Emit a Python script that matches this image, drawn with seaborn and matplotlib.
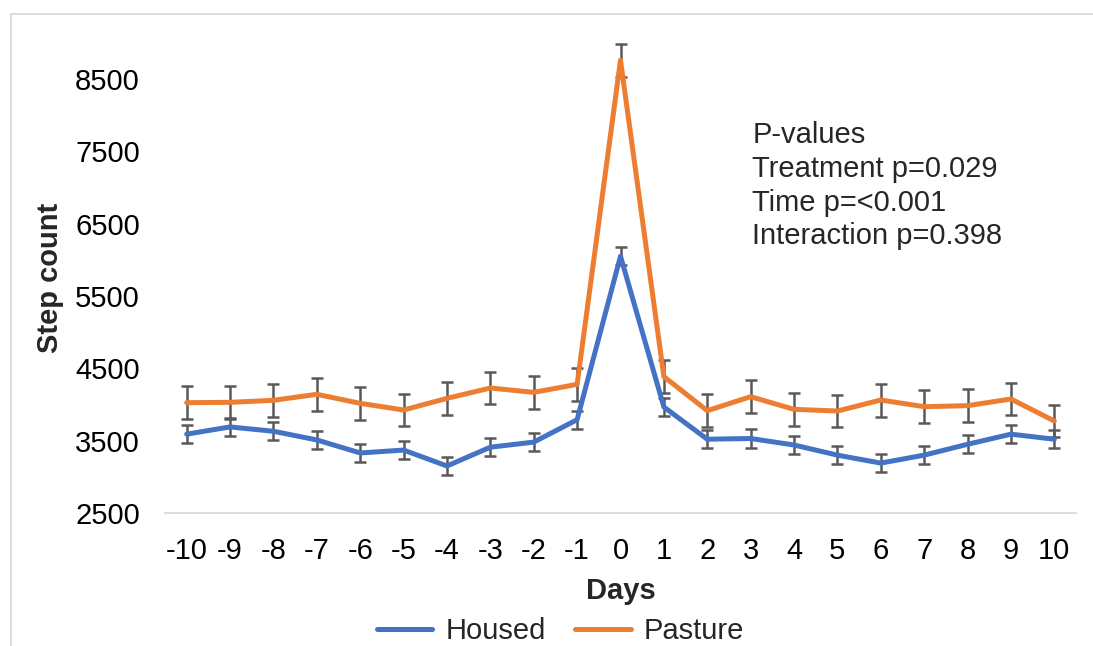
import numpy as np
import pandas as pd
import matplotlib
matplotlib.use("Agg")
import matplotlib.pyplot as plt
from matplotlib.lines import Line2D
import seaborn as sns

# Mean daily step count (with SEM) around the move day (day 0)
days = [-10, -9, -8, -7, -6, -5, -4, -3, -2, -1, 0, 1, 2, 3, 4, 5, 6, 7, 8, 9, 10]
housed_mean = [3590, 3690, 3630, 3510, 3330, 3370, 3150, 3410, 3480, 3790, 6050,
               3965, 3520, 3530, 3440, 3300, 3190, 3300, 3450, 3590, 3520]
housed_sem = [124, 127, 127, 127, 127, 127, 127, 127, 122, 127, 127,
              127, 127, 127, 127, 127, 127, 127, 127, 127, 127]
pasture_mean = [4025, 4030, 4058, 4141, 4016, 3924, 4085, 4228, 4168, 4279, 8760,
                4385, 3915, 4108, 3933, 3910, 4062, 3970, 3984, 4076, 3772]
pasture_sem = [225, 225, 228, 226, 226, 228, 226, 224, 226, 230, 226,
               225, 228, 226, 226, 226, 228, 226, 228, 226, 228]
groups = ["Housed", "Pasture"]
colors = {"Housed": "#4472C4", "Pasture": "#ED7D31"}
y_ticks = [2500, 3500, 4500, 5500, 6500, 7500, 8500]
p_lines = ["P-values", "Treatment p=0.029", "Time p=<0.001", "Interaction p=0.398"]

df = pd.DataFrame({
    "Days": days * 2,
    "Steps": housed_mean + pasture_mean,
    "SEM": housed_sem + pasture_sem,
    "Group": ["Housed"] * len(days) + ["Pasture"] * len(days),
})

sns.set_style("white")
plt.rcParams["font.family"] = ["Liberation Sans", "DejaVu Sans"]
FS = 21

W, H = 1093, 646
fig = plt.figure(figsize=(W / 100, H / 100), dpi=100)
ax = fig.add_axes([165 / W, 133 / H, 911 / W, 493 / H])

sns.lineplot(data=df, x="Days", y="Steps", hue="Group", palette=colors,
             errorbar=None, linewidth=3.6, legend=False, ax=ax, zorder=3)

for g in groups:
    sub = df[df["Group"] == g]
    ax.errorbar(sub["Days"], sub["Steps"], yerr=sub["SEM"], fmt="none",
                ecolor="#595959", elinewidth=1.8, capsize=4.3, capthick=1.8,
                zorder=2)

ax.set_xlim(-10.5, 10.5)
ax.set_ylim(2500, 9316)
ax.set_xticks(days)
ax.set_xticklabels([str(d) for d in days])
ax.set_yticks(y_ticks)
ax.set_yticklabels([str(v) for v in y_ticks])
ax.tick_params(axis="x", length=0, pad=17, labelsize=FS, colors="black")
ax.tick_params(axis="y", length=0, pad=18, labelsize=FS, colors="black")
ax.set_xlabel("")
ax.set_ylabel("")
for s in ["top", "right", "left"]:
    ax.spines[s].set_visible(False)
ax.spines["bottom"].set_color("#d9d9d9")
ax.spines["bottom"].set_linewidth(1.3)
ax.grid(False)

# Axis titles
fig.text(50 / W, 1 - 277.5 / H, "Step count", rotation=90, ha="center",
         va="center", fontsize=FS, fontweight="bold")
fig.text(621 / W, 1 - 598.7 / H, "Days", ha="center", va="baseline",
         fontsize=FS, fontweight="bold")

# P-value annotation
for i, line in enumerate(p_lines):
    fig.text(752.5 / W, 1 - (143.3 + 33.7 * i) / H, line, ha="left",
             va="baseline", fontsize=FS)

# Legend
handles = [Line2D([], [], color=colors[g], lw=3.6, solid_capstyle="round")
           for g in groups]
fig.legend(handles, groups, loc="center", bbox_to_anchor=(560.5 / W, 1 - 631 / H),
           ncol=2, frameon=False, fontsize=FS, handlelength=1.9,
           handletextpad=0.45, columnspacing=1.0, borderpad=0, borderaxespad=0)

# Chart-area border (top and left edges)
fig.add_artist(Line2D([10.5 / W, 10.5 / W], [0, 1 - 13.5 / H], color="#d9d9d9",
                      lw=1.3, transform=fig.transFigure))
fig.add_artist(Line2D([10.5 / W, 1], [1 - 13.5 / H, 1 - 13.5 / H], color="#d9d9d9",
                      lw=1.3, transform=fig.transFigure))

fig.savefig("out.png", dpi=100, facecolor="white")
